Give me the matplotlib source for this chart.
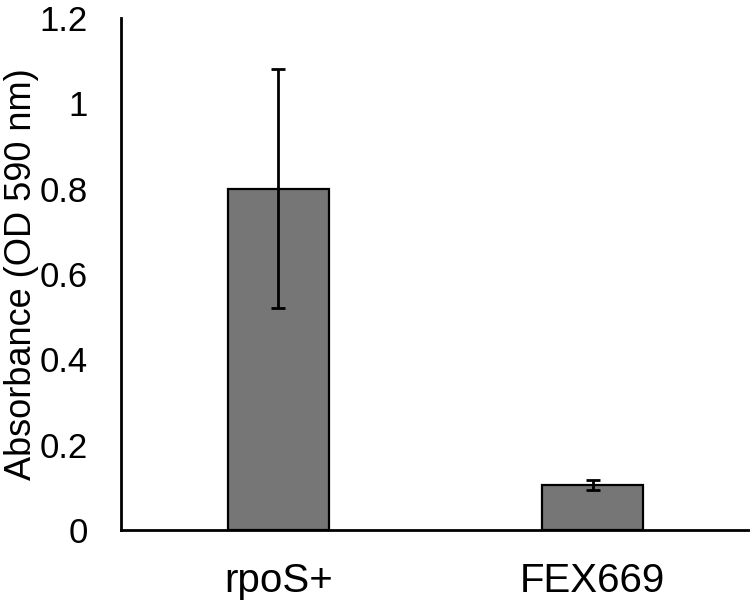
import matplotlib.pyplot as plt

plt.rcParams['font.family'] = ['Liberation Sans', 'DejaVu Sans']

strains = ['rpoS+', 'FEX669']
absorbance = [0.80, 0.105]
errors = [0.28, 0.012]

fig = plt.figure(figsize=(7.5, 6.07), dpi=100)
ax = fig.add_axes([0.1613, 0.1269, 0.8387, 0.8434])

ax.bar(range(len(strains)), absorbance, width=0.32, color='#767676',
       edgecolor='black', linewidth=1.6, zorder=2)
ax.errorbar(range(len(strains)), absorbance, yerr=errors, fmt='none',
            ecolor='black', elinewidth=2, capsize=5, capthick=2, zorder=3)

ax.set_xlim(-0.5, 1.5)
ax.set_ylim(0, 1.2)
ax.set_yticks([0, 0.2, 0.4, 0.6, 0.8, 1.0, 1.2])
ax.set_yticklabels(['0', '0.2', '0.4', '0.6', '0.8', '1', '1.2'])
ax.set_xticks(range(len(strains)))
ax.set_xticklabels(strains)

ax.tick_params(axis='y', length=0, pad=24, labelsize=25)
ax.tick_params(axis='x', length=0, pad=23, labelsize=29)

for side in ['top', 'right']:
    ax.spines[side].set_visible(False)
for side in ['left', 'bottom']:
    ax.spines[side].set_linewidth(2)

ax.set_ylabel('Absorbance (OD 590 nm)', fontsize=26)
ax.yaxis.set_label_coords(-0.13, 0.5)

fig.savefig('out.png', dpi=100)
